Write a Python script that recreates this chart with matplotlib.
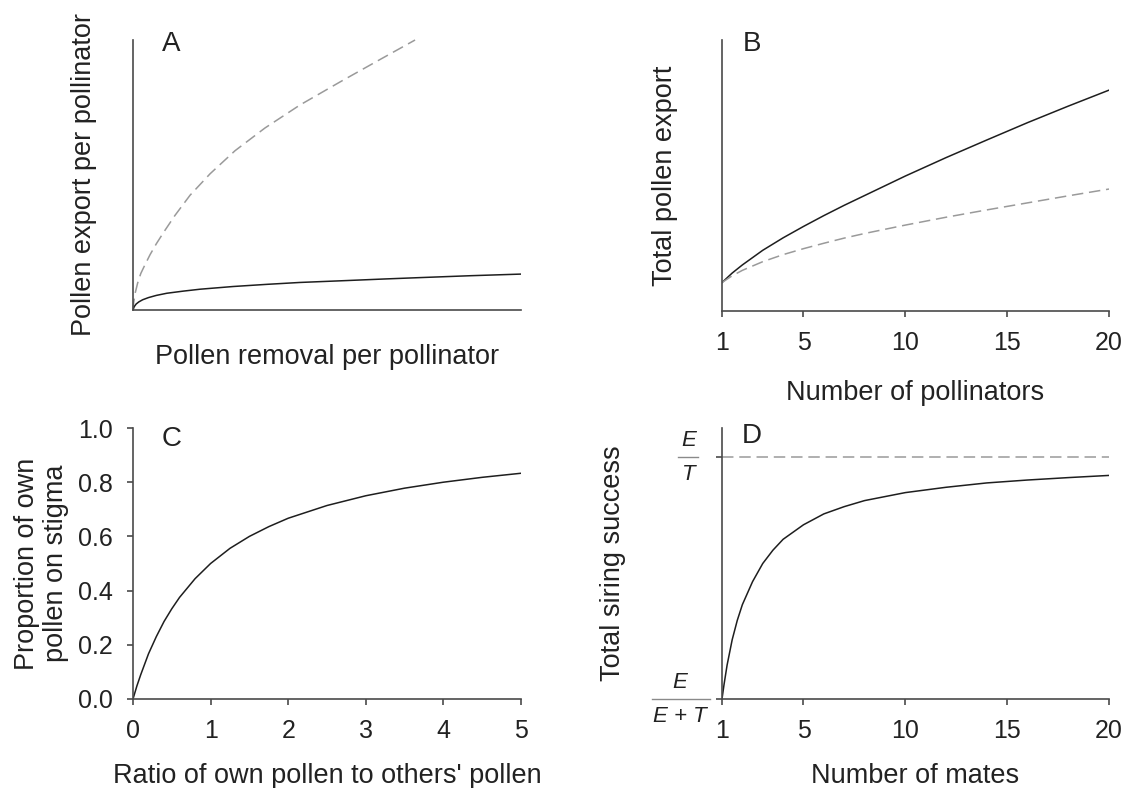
import numpy as np
import matplotlib
matplotlib.use('Agg')
import matplotlib.pyplot as plt

plt.rcParams['font.family'] = ['Liberation Sans', 'DejaVu Sans']

# ---- данные ----
# A: экспорт пыльцы на опылителя (условные единицы 0..10)
a_x_dash = [0.0, 0.02, 0.06, 0.12, 0.2, 0.3, 0.44, 0.6, 0.8, 1.08, 1.47, 1.99,
            2.63, 3.40, 4.30, 5.34, 6.37, 7.27]
a_y_dash = [0.0, 0.3, 0.65, 1.0, 1.35, 1.65, 2.05, 2.45, 2.9, 3.5, 4.25, 5.05,
            5.9, 6.74, 7.59, 8.45, 9.28, 10.0]
a_x_solid = [0.0, 0.03, 0.08, 0.15, 0.25, 0.4, 0.6, 0.87, 1.3, 1.73, 2.58, 3.45,
             4.30, 5.5, 6.5, 7.4, 8.7, 10.0]
a_y_solid = [0.0, 0.12, 0.22, 0.30, 0.38, 0.46, 0.54, 0.62, 0.70, 0.77, 0.87, 0.95,
             1.02, 1.09, 1.15, 1.20, 1.27, 1.33]

# B: общий экспорт пыльцы от числа опылителей
b_x = [1, 1.5, 2, 3, 4, 5, 6, 7, 8, 10, 12, 14, 16, 18, 20]
b_y_solid = [1.05, 1.40, 1.70, 2.24, 2.70, 3.12, 3.52, 3.90, 4.26, 4.98, 5.66,
             6.31, 6.95, 7.56, 8.15]
b_y_dash = [1.05, 1.30, 1.50, 1.82, 2.08, 2.30, 2.50, 2.69, 2.86, 3.17, 3.46,
            3.73, 3.99, 4.25, 4.50]

# C: доля собственной пыльцы на рыльце
c_x = [0, 0.05, 0.1, 0.2, 0.3, 0.4, 0.5, 0.6, 0.8, 1.0, 1.25, 1.5, 1.75, 2.0,
       2.5, 3.0, 3.5, 4.0, 4.5, 5.0]
c_y = [0, 0.048, 0.09, 0.167, 0.23, 0.286, 0.333, 0.375, 0.444, 0.5, 0.556, 0.6,
       0.636, 0.667, 0.714, 0.75, 0.778, 0.8, 0.818, 0.833]

# D: общий успех отцовства (0 = E/(E+T), 1 = E/T)
d_x = [1, 1.1, 1.25, 1.5, 1.75, 2, 2.5, 3, 3.5, 4, 5, 6, 7, 8, 10, 12, 14, 16, 18, 20]
d_y = [0, 0.06, 0.14, 0.245, 0.325, 0.39, 0.485, 0.56, 0.615, 0.66, 0.72, 0.765,
       0.795, 0.82, 0.853, 0.875, 0.893, 0.905, 0.915, 0.924]

ticks_pollinators = [1, 5, 10, 15, 20]
ticks_ratio = [0, 1, 2, 3, 4, 5]
ticks_prop = [0.0, 0.2, 0.4, 0.6, 0.8, 1.0]

W, H = 1123, 788
fig = plt.figure(figsize=(W / 100, H / 100), dpi=100)


def make_axes(left, top, right, bottom):
    ax = fig.add_axes([left / W, 1 - bottom / H, (right - left) / W, (bottom - top) / H])
    for s in ['top', 'right']:
        ax.spines[s].set_visible(False)
    for s in ['left', 'bottom']:
        ax.spines[s].set_linewidth(1.2)
        ax.spines[s].set_color('#4a4a4a')
    ax.tick_params(direction='out', length=4.5, width=1.2, color='#4a4a4a',
                   labelsize=18, pad=10, labelcolor='#222222')
    return ax


solid = dict(color='#1e1e1e', lw=1.1)
dashed = dict(color='#9a9a9a', lw=1.1, dashes=(7.5, 3.8))
lab = dict(fontsize=19.5, color='#222222', va='center', ha='center')
letter = dict(fontsize=20, color='#222222', va='center', ha='center')

# A
axA = make_axes(133, 40, 521, 310)
axA.plot(a_x_dash, a_y_dash, clip_on=False, **dashed)
axA.plot(a_x_solid, a_y_solid, **solid)
axA.set_xlim(0, 10)
axA.set_ylim(0, 10)
axA.set_xticks([])
axA.set_yticks([])
axA.set_xlabel('Pollen removal per pollinator', **lab)
axA.xaxis.set_label_coords(0.5, -0.175)
axA.set_ylabel('Pollen export per pollinator', **lab)
axA.yaxis.set_label_coords(-0.127, 0.5)
axA.text(0.099, 0.985, 'A', transform=axA.transAxes, **letter)

# B
axB = make_axes(722, 40, 1109, 311)
axB.plot(b_x, b_y_solid, **solid)
axB.plot(b_x, b_y_dash, **dashed)
axB.set_xlim(1, 20)
axB.set_ylim(0, 10)
axB.set_xticks(ticks_pollinators)
axB.set_yticks([])
axB.set_xlabel('Number of pollinators', **lab)
axB.xaxis.set_label_coords(0.5, -0.303)
axB.set_ylabel('Total pollen export', **lab)
axB.yaxis.set_label_coords(-0.147, 0.5)
axB.text(0.078, 0.985, 'B', transform=axB.transAxes, **letter)

# C
axC = make_axes(133, 428, 521, 699)
axC.plot(c_x, c_y, **solid)
axC.set_xlim(0, 5)
axC.set_ylim(0, 1)
axC.set_xticks(ticks_ratio)
axC.set_yticks(ticks_prop)
axC.set_yticklabels([f'{v:.1f}' for v in ticks_prop])
axC.set_xlabel("Ratio of own pollen to others' pollen", **lab)
axC.xaxis.set_label_coords(0.5, -0.283)
axC.set_ylabel('Proportion of own\npollen on stigma', linespacing=1.15, **lab)
axC.yaxis.set_label_coords(-0.235, 0.5)
axC.text(0.099, 0.96, 'C', transform=axC.transAxes, **letter)

# D
axD = make_axes(722, 428, 1109, 699)
axD.plot(d_x, d_y, **solid)
axD.axhline(1.0, xmin=0, xmax=1, **dashed)
axD.set_xlim(1, 20)
axD.set_ylim(0, 1.12)
axD.set_xticks(ticks_pollinators)
axD.set_yticks([0, 1])
axD.set_yticklabels(['', ''])
axD.set_xlabel('Number of mates', **lab)
axD.xaxis.set_label_coords(0.5, -0.283)
axD.set_ylabel('Total siring success', **lab)
axD.yaxis.set_label_coords(-0.282, 0.5)
axD.text(0.078, 0.97, 'D', transform=axD.transAxes, **letter)

# дроби на оси D
frac = dict(xycoords=('axes fraction', 'data'), textcoords='offset points',
            ha='center', fontsize=16, style='italic', color='#222222')
axD.annotate('E', xy=(-0.085, 1), xytext=(0, 4), va='bottom', **frac)
axD.annotate('T', xy=(-0.085, 1), xytext=(0, -5), va='top', **frac)
axD.plot([-0.114, -0.062], [1, 1], transform=axD.get_yaxis_transform(),
         color='#8a8a8a', lw=1.0, clip_on=False)
axD.annotate('E', xy=(-0.1085, 0), xytext=(0, 4), va='bottom', **frac)
axD.annotate('E + T', xy=(-0.1085, 0), xytext=(0, -5), va='top', **frac)
axD.plot([-0.181, -0.031], [0, 0], transform=axD.get_yaxis_transform(),
         color='#8a8a8a', lw=1.0, clip_on=False)

fig.savefig('out.png', dpi=100)
